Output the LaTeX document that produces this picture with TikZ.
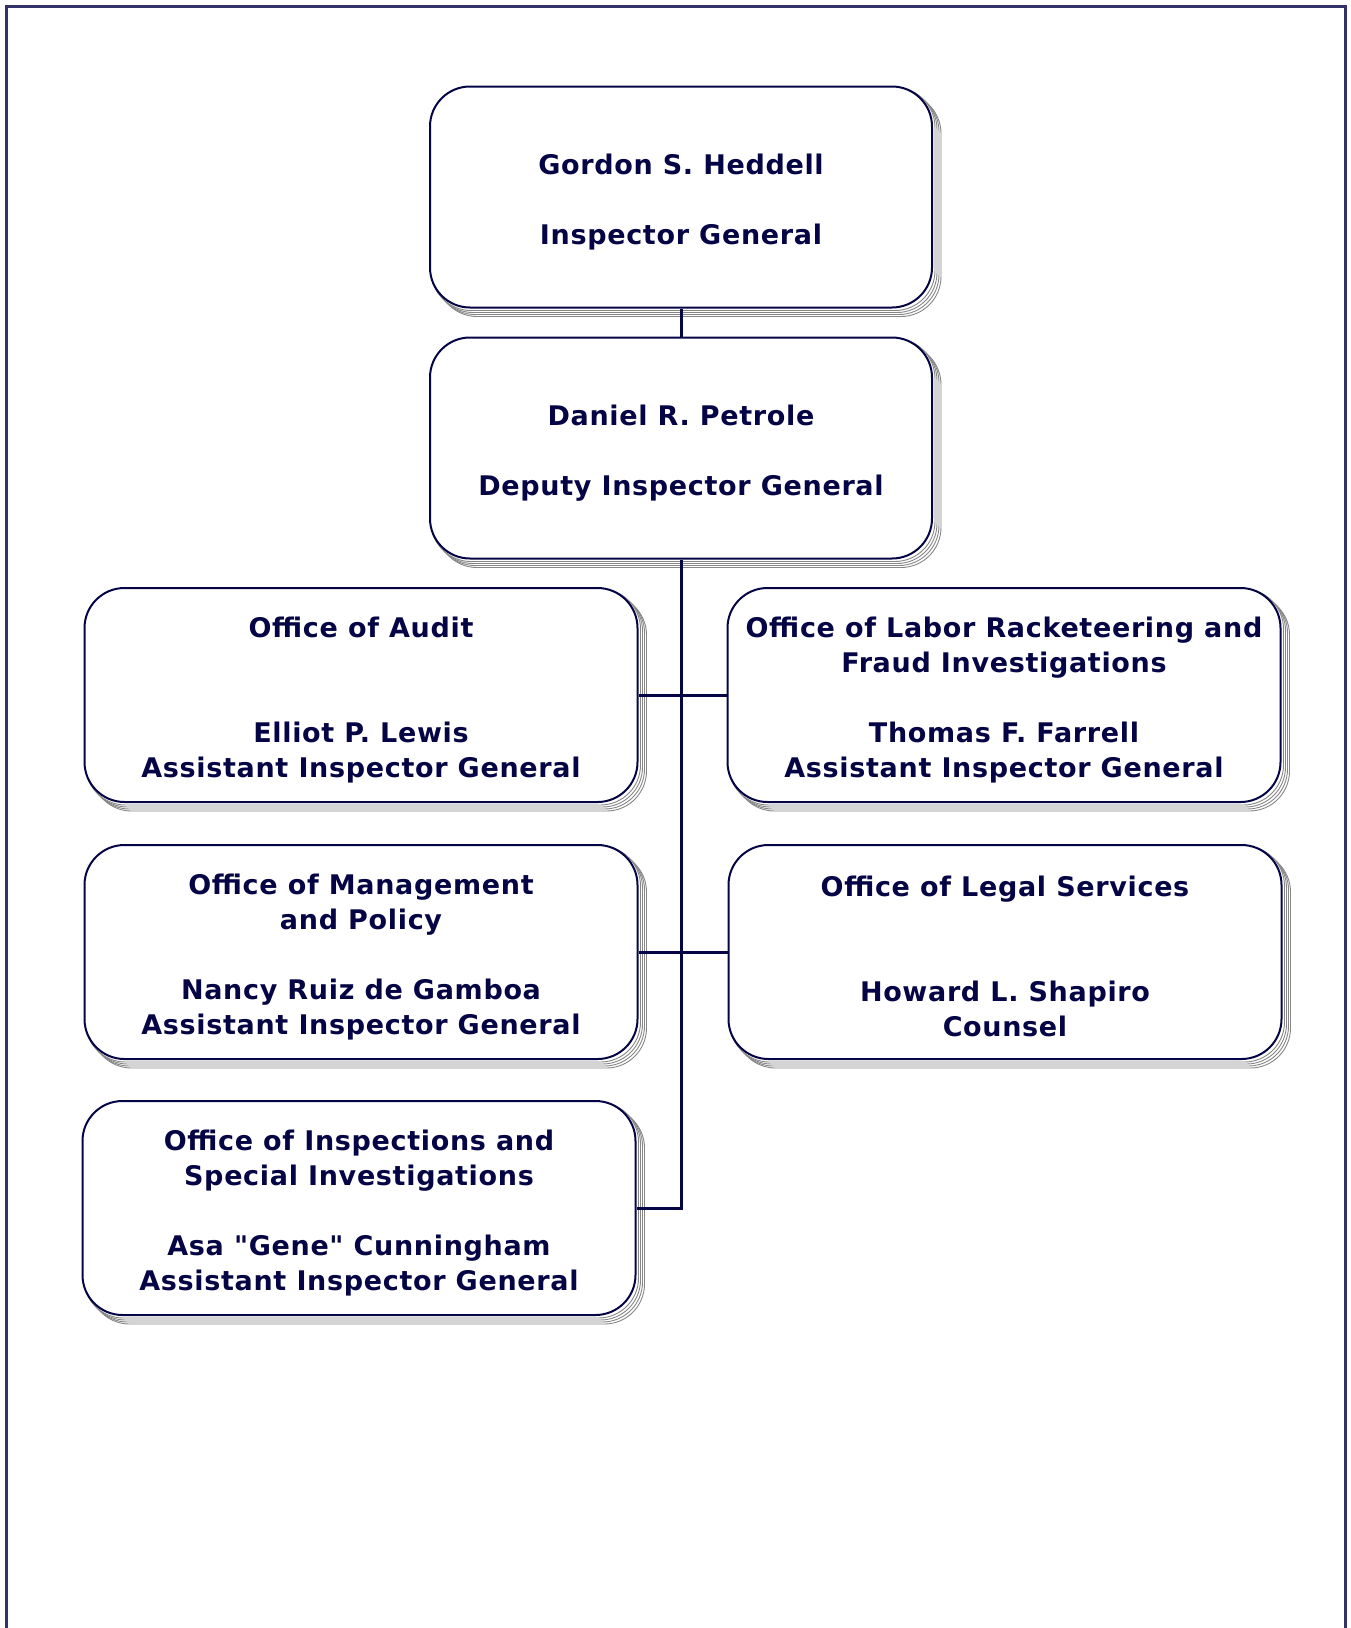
\documentclass[tikz,border=0pt]{standalone}
\usepackage{fontspec}
\setmainfont{DejaVu Sans}[LetterSpace=2.5, Ligatures=TeXOff]
\usetikzlibrary{backgrounds}
\definecolor{encre}{RGB}{5,5,70}
\definecolor{cadre}{RGB}{50,50,105}
\newcommand{\haut}{\rule{0pt}{30pt}}
\tikzset{
    poste/.style={draw=encre, line width=2pt, fill=white, rounded corners=40pt,
        align=center, text=encre, inner sep=0pt,
        font=\fontsize{27}{35}\selectfont\bfseries,
        minimum width=553pt, minimum height=214pt},
    chef/.style={poste, minimum width=502pt, minimum height=221pt},
    ombre/.style={draw=gray!95, line width=0.9pt, fill=white, rounded corners=40pt},
    lien/.style={draw=encre, line width=3pt}
}
\begin{document}
\begin{tikzpicture}[x=1pt, y=-1pt]

            \useasboundingbox (0,0) rectangle (1351,1628);

            % Cadre de la page (ouvert en bas)
            \draw[cadre, line width=3pt] (6,1628) -- (6,6) -- (1345,6) -- (1345,1628);

            % Direction
            \node[chef] (ig) at (681,197) {\haut Gordon S. Heddell\\[35pt]Inspector General};
            \node[chef] (dig) at (681,448) {\haut Daniel R. Petrole\\[35pt]Deputy Inspector General};

            % Bureaux de gauche
            \node[poste] (audit) at (361,695)
                {\haut Office of Audit\\[70pt]Elliot P. Lewis\\Assistant Inspector General};
            \node[poste] (mgmt) at (361,952)
                {\haut Office of Management\\and Policy\\[35pt]Nancy Ruiz de Gamboa\\Assistant Inspector General};
            \node[poste] (insp) at (359,1208)
                {\haut Office of Inspections and\\Special Investigations\\[35pt]Asa "Gene" Cunningham\\Assistant Inspector General};

            % Bureaux de droite
            \node[poste] (labor) at (1004,695)
                {\haut Office of Labor Racketeering and\\Fraud Investigations\\[35pt]Thomas F. Farrell\\Assistant Inspector General};
            \node[poste] (legal) at (1005,952)
                {\haut Office of Legal Services\\[70pt]Howard L. Shapiro\\Counsel};

            % Ombres empilées derrière les cadres
            \begin{scope}[on background layer]
                \foreach \n in {ig,dig,audit,mgmt,insp,labor,legal} {
                    \foreach \d in {8,6,4,2} {
                        \draw[ombre] ([shift={(\d,\d)}]\n.south west) rectangle ([shift={(\d,\d)}]\n.north east);
                    }
                }
            \end{scope}

            % Liaisons
            \draw[lien] (ig.south) -- (dig.north);
            \draw[lien] (dig.south) -- (dig.south |- insp.east) -- (insp.east);
            \draw[lien] (audit.east) -- (labor.west);
            \draw[lien] (mgmt.east) -- (legal.west);

\end{tikzpicture}
\end{document}
